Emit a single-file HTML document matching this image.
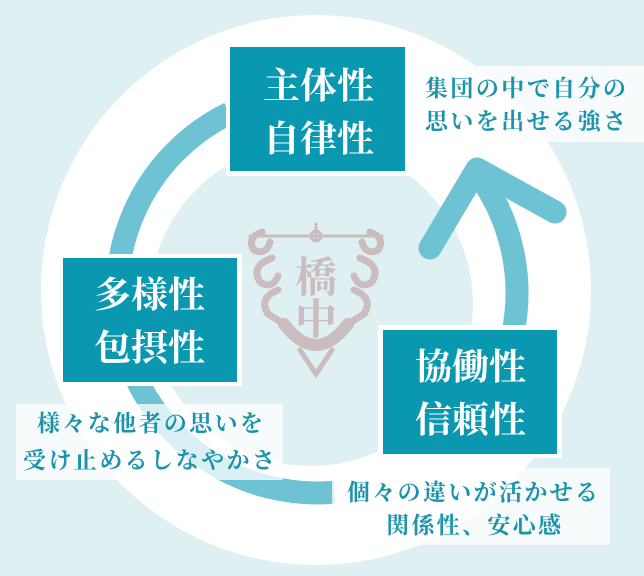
<!DOCTYPE html>
<html><head><meta charset="utf-8"><style>
html,body{margin:0;padding:0;background:#dff0f3;}
svg{display:block;}
.t{font-family:"Liberation Serif","Noto Serif CJK SC",serif;font-weight:700;}
</style></head><body>
<svg width="644" height="576" viewBox="0 0 644 576" xmlns="http://www.w3.org/2000/svg">
<rect width="644" height="576" fill="#dff0f3"/>
<circle cx="316" cy="290" r="275" fill="#ffffff"/>
<circle cx="311" cy="304" r="162" fill="#dff0f3"/>
<!-- emblem -->
<g fill="none" stroke="#cbbcbe" stroke-width="7" stroke-linecap="round">
  <path d="M262 232 q-16 6 -8 18 q12 6 16 -8"/>
  <path d="M370 232 q16 6 8 18 q-12 6 -16 -8"/>
  <path d="M272 258 q-22 8 -12 24 q12 8 18 -6"/>
  <path d="M360 258 q22 8 12 24 q-12 8 -18 -6"/>
  <path d="M278 290 q-20 8 -10 24 l16 10"/>
  <path d="M354 290 q20 8 10 24 l-16 10"/>
  <path d="M250 236 H382" stroke-width="3"/>
  <path d="M316 224 v16" stroke-width="3"/>
  <path d="M284 324 q32 42 64 0" stroke-width="12"/>
  <path d="M300 350 l16 24 l16 -24" stroke-width="5"/>
</g>
<circle cx="316" cy="236" r="5" fill="none" stroke="#cbbcbe" stroke-width="3"/>
<text class="t" x="316" y="292" font-size="42" fill="#cbbcbe" text-anchor="middle">橋</text>
<text class="t" x="316" y="334" font-size="42" fill="#cbbcbe" text-anchor="middle">中</text>
<!-- arcs -->
<g fill="none" stroke="#6dc3d3" stroke-width="23">
  <path d="M334.4 492.2 A200 200 0 0 1 229.4 113.2"/>
  <path d="M512.6 334.6 A200 200 0 0 0 474.6 169.8"/>
  <path d="M430 248 L477 169 L555 212" stroke-linecap="round" stroke-linejoin="round"/>
</g>
<!-- boxes -->
<rect x="226" y="43" width="183" height="133" fill="#ffffff"/>
<rect x="230" y="47" width="175" height="124" fill="#0a98b1"/>
<rect x="59" y="254" width="183" height="132" fill="#ffffff"/>
<rect x="63" y="258" width="174" height="124" fill="#0a98b1"/>
<rect x="378" y="325" width="184" height="133" fill="#ffffff"/>
<rect x="383" y="330" width="174" height="124" fill="#0a98b1"/>
<g class="t" fill="#ffffff" font-size="36">
  <text x="263" y="98" textLength="111" lengthAdjust="spacingAndGlyphs">主体性</text>
  <text x="263" y="151" textLength="111" lengthAdjust="spacingAndGlyphs">自律性</text>
  <text x="94" y="307" textLength="111" lengthAdjust="spacingAndGlyphs">多様性</text>
  <text x="94" y="360" textLength="111" lengthAdjust="spacingAndGlyphs">包摂性</text>
  <text x="415" y="379" textLength="111" lengthAdjust="spacingAndGlyphs">協働性</text>
  <text x="415" y="432" textLength="111" lengthAdjust="spacingAndGlyphs">信頼性</text>
</g>
<!-- text boxes -->
<rect x="411" y="66" width="233" height="76" fill="#ffffff" fill-opacity="0.75"/>
<rect x="16" y="404" width="267" height="76" fill="#ffffff" fill-opacity="0.75"/>
<rect x="332" y="468" width="278" height="77" fill="#ffffff" fill-opacity="0.75"/>
<g class="t" fill="#1a93ab" font-size="23">
  <text x="425" y="96" textLength="201" lengthAdjust="spacing">集団の中で自分の</text>
  <text x="425" y="129" textLength="201" lengthAdjust="spacing">思いを出せる強さ</text>
  <text x="37" y="431" textLength="226" lengthAdjust="spacing">様々な他者の思いを</text>
  <text x="23" y="468" textLength="252" lengthAdjust="spacing">受け止めるしなやかさ</text>
  <text x="347" y="500" textLength="251" lengthAdjust="spacing">個々の違いが活かせる</text>
  <text x="386" y="533" textLength="175" lengthAdjust="spacing">関係性、安心感</text>
</g>
</svg>
</body></html>
